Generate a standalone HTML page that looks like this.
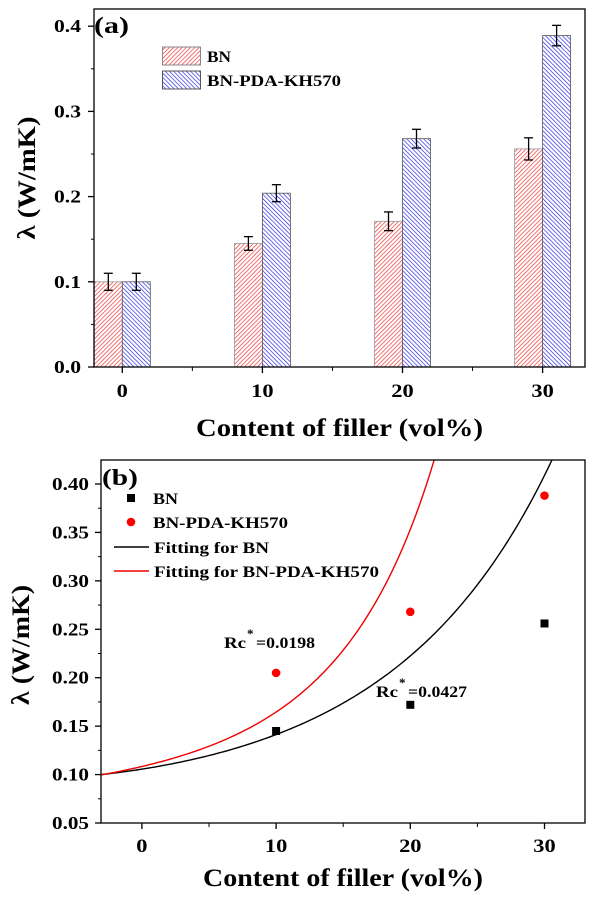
<!DOCTYPE html>
<html><head><meta charset="utf-8"><style>
html,body{margin:0;padding:0;background:#fff;}
svg{display:block;font-family:"Liberation Serif",serif;font-weight:bold;}
</style></head><body>
<svg id="chart" width="600" height="900" viewBox="0 0 600 900">
<defs>
<pattern id="hatchRed" width="3" height="3" patternUnits="userSpaceOnUse" patternTransform="rotate(45)">
<rect width="3" height="3" fill="#fff"/><line x1="0" y1="0" x2="0" y2="3" stroke="#ee2a2a" stroke-width="1.3"/></pattern>
<pattern id="hatchBlue" width="3" height="3" patternUnits="userSpaceOnUse" patternTransform="rotate(-45)">
<rect width="3" height="3" fill="#fff"/><line x1="0" y1="0" x2="0" y2="3" stroke="#2020e0" stroke-width="1.3"/></pattern>
</defs>
<g id="panelA"></g>
<g id="panelB"></g>
</svg>
<script>
// ---- Panel (a) data ----
const catsA = [0, 10, 20, 30];
const bnVals = [0.100, 0.145, 0.171, 0.256];
const bnErr = [0.010, 0.008, 0.011, 0.013];
const pdaVals = [0.100, 0.204, 0.268, 0.389];
const pdaErr = [0.010, 0.010, 0.011, 0.012];
const yTicksA = [0.0, 0.1, 0.2, 0.3, 0.4];
const yTickLabelsA = ["0.0", "0.1", "0.2", "0.3", "0.4"];
const xTickLabelsA = ["0", "10", "20", "30"];
// ---- Panel (b) data ----
const xPts = [10, 20, 30];
const bnPts = [0.145, 0.172, 0.256];
const pdaPts = [0.205, 0.268, 0.388];
const bnFitX = [-3, 0, 5, 8, 10, 15.5, 20, 23, 28.2, 30.5];
const bnFitY = [0.100, 0.106, 0.119, 0.131, 0.142, 0.178, 0.225, 0.260, 0.361, 0.425];
const pdaFitX = [-3, 0, 5, 8, 10, 13, 15, 17, 18.25, 20, 21.7];
const pdaFitY = [0.100, 0.108, 0.128, 0.150, 0.166, 0.195, 0.228, 0.270, 0.300, 0.350, 0.423];
const yTicksB = [0.05, 0.10, 0.15, 0.20, 0.25, 0.30, 0.35, 0.40];
const yTickLabelsB = ["0.05", "0.10", "0.15", "0.20", "0.25", "0.30", "0.35", "0.40"];
const xTicksB = [0, 10, 20, 30];
const xTickLabelsB = ["0", "10", "20", "30"];

const NS = "http://www.w3.org/2000/svg";
function mk(parent, tag, attrs, text) {
  const e = document.createElementNS(NS, tag);
  for (const k in attrs) e.setAttribute(k, attrs[k]);
  if (text !== undefined) e.textContent = text;
  parent.appendChild(e);
  return e;
}
function stretch(e, f) {
  const w = e.getComputedTextLength();
  e.setAttribute('textLength', w * f);
  e.setAttribute('lengthAdjust', 'spacingAndGlyphs');
}
function fixLen(e, w) {
  e.setAttribute('textLength', w);
  e.setAttribute('lengthAdjust', 'spacingAndGlyphs');
}
const SX = 1.18;

// ===== Panel A =====
const A = document.getElementById('panelA');
const ax = v => 122.3 + v * 14.01;
const ay = v => 367 - v * 852;
const barW = 28;
let el;
catsA.forEach((c, i) => {
  const x = ax(c);
  el = mk(A, 'rect', {x: x - barW, y: ay(bnVals[i]), width: barW, height: ay(0) - ay(bnVals[i]), fill: 'url(#hatchRed)', stroke: '#999', 'stroke-width': 0.8});
  
  
  el = mk(A, 'rect', {x: x, y: ay(pdaVals[i]), width: barW, height: ay(0) - ay(pdaVals[i]), fill: 'url(#hatchBlue)', stroke: '#555', 'stroke-width': 0.8});
  
  
  [[x - barW / 2, bnVals[i], bnErr[i]], [x + barW / 2, pdaVals[i], pdaErr[i]]].forEach(([ex, v, e]) => {
    const g = mk(A, 'g', {stroke: '#000', 'stroke-width': 1.3});
    
    
    mk(g, 'line', {x1: ex, x2: ex, y1: ay(v - e), y2: ay(v + e)});
    mk(g, 'line', {x1: ex - 4.5, x2: ex + 4.5, y1: ay(v - e), y2: ay(v - e)});
    mk(g, 'line', {x1: ex - 4.5, x2: ex + 4.5, y1: ay(v + e), y2: ay(v + e)});
  });
});
el = mk(A, 'rect', {x: 94, y: 9, width: 491, height: 358, fill: 'none', stroke: '#000', 'stroke-width': 1.3});


yTicksA.forEach((t, i) => {
  mk(A, 'line', {x1: 88, x2: 94, y1: ay(t), y2: ay(t), stroke: '#000', 'stroke-width': 1.3});
  if (i < yTicksA.length - 1) mk(A, 'line', {x1: 91, x2: 94, y1: ay(t + 0.05), y2: ay(t + 0.05), stroke: '#000', 'stroke-width': 1});
  el = mk(A, 'text', {x: 81, y: ay(t) + 6, 'text-anchor': 'end', 'font-size': 18}, yTickLabelsA[i]);
  
  
  fixLen(el, 27);
});
catsA.forEach((c, i) => {
  mk(A, 'line', {x1: ax(c), x2: ax(c), y1: 367, y2: 373, stroke: '#000', 'stroke-width': 1.3});
  if (i < catsA.length - 1) mk(A, 'line', {x1: ax(c + 5), x2: ax(c + 5), y1: 367, y2: 371, stroke: '#000', 'stroke-width': 1});
  el = mk(A, 'text', {x: ax(c), y: 397, 'text-anchor': 'middle', 'font-size': 19}, xTickLabelsA[i]);
  
  
  stretch(el, SX);
});
el = mk(A, 'text', {x: 94, y: 33, 'font-size': 23}, '(a)');


fixLen(el, 35);
el = mk(A, 'text', {x: 196, y: 436, 'font-size': 25}, 'Content of filler (vol%)');


fixLen(el, 287);
el = mk(A, 'text', {x: 0, y: 0, 'text-anchor': 'middle', 'font-size': 25, transform: 'translate(35,178) rotate(-90)'}, 'λ (W/mK)');


fixLen(el, 123);
el = mk(A, 'rect', {x: 162.5, y: 47, width: 38, height: 18, fill: 'url(#hatchRed)', stroke: '#888'});


el = mk(A, 'text', {x: 207, y: 62, 'font-size': 16}, 'BN');


fixLen(el, 24);
el = mk(A, 'rect', {x: 162.5, y: 71, width: 38, height: 18, fill: 'url(#hatchBlue)', stroke: '#555'});


el = mk(A, 'text', {x: 207, y: 86, 'font-size': 16}, 'BN-PDA-KH570');


fixLen(el, 134);

// ===== Panel B =====
const B = document.getElementById('panelB');
const bx = v => 141.9 + v * 13.42;
const by = v => 823 - (v - 0.05) * 968.6;
const clip = mk(document.querySelector('defs'), 'clipPath', {id: 'clipB'});
mk(clip, 'rect', {x: 101, y: 460, width: 484, height: 363});
// smooth curve: least-squares cubic of ln(y) vs x over the read fit samples
function polyFit(xs, ys, deg) {
  const n = deg + 1, M = [], v = [];
  for (let r = 0; r < n; r++) { M.push(new Array(n).fill(0)); v.push(0); }
  xs.forEach((x, k) => {
    const ly = Math.log(ys[k]);
    for (let r = 0; r < n; r++) {
      v[r] += ly * Math.pow(x, r);
      for (let c = 0; c < n; c++) M[r][c] += Math.pow(x, r + c);
    }
  });
  for (let i = 0; i < n; i++) {
    let p = i;
    for (let r = i + 1; r < n; r++) if (Math.abs(M[r][i]) > Math.abs(M[p][i])) p = r;
    [M[i], M[p]] = [M[p], M[i]]; [v[i], v[p]] = [v[p], v[i]];
    for (let r = 0; r < n; r++) if (r !== i) {
      const f = M[r][i] / M[i][i];
      for (let c = i; c < n; c++) M[r][c] -= f * M[i][c];
      v[r] -= f * v[i];
    }
  }
  return v.map((val, i) => val / M[i][i]);
}
function fitPath(xs, ys) {
  const co = polyFit(xs, ys, 3);
  let path = '';
  for (let x = -3.1; x <= 33; x += 0.2) {
    const y = Math.exp(co.reduce((s, c, i) => s + c * Math.pow(x, i), 0));
    if (y > 0.5) break;
    path += (path ? ' L' : 'M') + bx(x).toFixed(2) + ',' + by(y).toFixed(2);
  }
  return path;
}
el = mk(B, 'path', {d: fitPath(bnFitX, bnFitY), fill: 'none', stroke: '#000', 'stroke-width': 1.4, 'clip-path': 'url(#clipB)'});


el = mk(B, 'path', {d: fitPath(pdaFitX, pdaFitY), fill: 'none', stroke: '#e00', 'stroke-width': 1.4, 'clip-path': 'url(#clipB)'});


xPts.forEach((x, i) => {
  el = mk(B, 'rect', {x: bx(x) - 4, y: by(bnPts[i]) - 4, width: 8, height: 8, fill: '#000'});
  
  
  el = mk(B, 'circle', {cx: bx(x), cy: by(pdaPts[i]), r: 4.3, fill: '#f00'});
  
  
});
el = mk(B, 'rect', {x: 101, y: 460, width: 484, height: 363, fill: 'none', stroke: '#000', 'stroke-width': 1.3});


yTicksB.forEach((t, i) => {
  mk(B, 'line', {x1: 95, x2: 101, y1: by(t), y2: by(t), stroke: '#000', 'stroke-width': 1.3});
  if (i < yTicksB.length - 1) mk(B, 'line', {x1: 98, x2: 101, y1: by(t + 0.025), y2: by(t + 0.025), stroke: '#000', 'stroke-width': 1});
  el = mk(B, 'text', {x: 89, y: by(t) + 6, 'text-anchor': 'end', 'font-size': 18}, yTickLabelsB[i]);
  
  
  fixLen(el, 37);
});
xTicksB.forEach((t, i) => {
  mk(B, 'line', {x1: bx(t), x2: bx(t), y1: 823, y2: 829, stroke: '#000', 'stroke-width': 1.3});
  mk(B, 'line', {x1: bx(t + 5), x2: bx(t + 5), y1: 823, y2: 827, stroke: '#000', 'stroke-width': 1});
  el = mk(B, 'text', {x: bx(t), y: 852, 'text-anchor': 'middle', 'font-size': 19}, xTickLabelsB[i]);
  
  
  stretch(el, SX);
});
el = mk(B, 'text', {x: 102, y: 485, 'font-size': 23}, '(b)');


fixLen(el, 36);
el = mk(B, 'text', {x: 203, y: 886, 'font-size': 25}, 'Content of filler (vol%)');


fixLen(el, 280);
el = mk(B, 'text', {x: 0, y: 0, 'text-anchor': 'middle', 'font-size': 25, transform: 'translate(29,645) rotate(-90)'}, 'λ (W/mK)');


fixLen(el, 120);
// legend
el = mk(B, 'rect', {x: 127, y: 494, width: 8, height: 8, fill: '#000'});


el = mk(B, 'text', {x: 153, y: 504, 'font-size': 16}, 'BN');


fixLen(el, 25);
el = mk(B, 'circle', {cx: 131, cy: 522, r: 4.3, fill: '#f00'});


el = mk(B, 'text', {x: 153, y: 528, 'font-size': 16}, 'BN-PDA-KH570');


fixLen(el, 135);
el = mk(B, 'line', {x1: 114, x2: 149, y1: 547, y2: 547, stroke: '#000', 'stroke-width': 1.4});


el = mk(B, 'text', {x: 154, y: 553, 'font-size': 16}, 'Fitting for BN');


fixLen(el, 115);
el = mk(B, 'line', {x1: 114, x2: 149, y1: 571, y2: 571, stroke: '#e00', 'stroke-width': 1.4});


el = mk(B, 'text', {x: 154, y: 577, 'font-size': 16}, 'Fitting for BN-PDA-KH570');


fixLen(el, 225);
// annotations
el = mk(B, 'text', {x: 224, y: 648, 'font-size': 16}, 'Rc');


fixLen(el, 22);
mk(B, 'text', {x: 247, y: 638, 'font-size': 13}, '*');
el = mk(B, 'text', {x: 256, y: 648, 'font-size': 16}, '=0.0198');
fixLen(el, 59);
el = mk(B, 'text', {x: 376, y: 697, 'font-size': 16}, 'Rc');


fixLen(el, 22);
mk(B, 'text', {x: 399, y: 687, 'font-size': 13}, '*');
el = mk(B, 'text', {x: 408, y: 697, 'font-size': 16}, '=0.0427');
fixLen(el, 59);
</script>
</body></html>
